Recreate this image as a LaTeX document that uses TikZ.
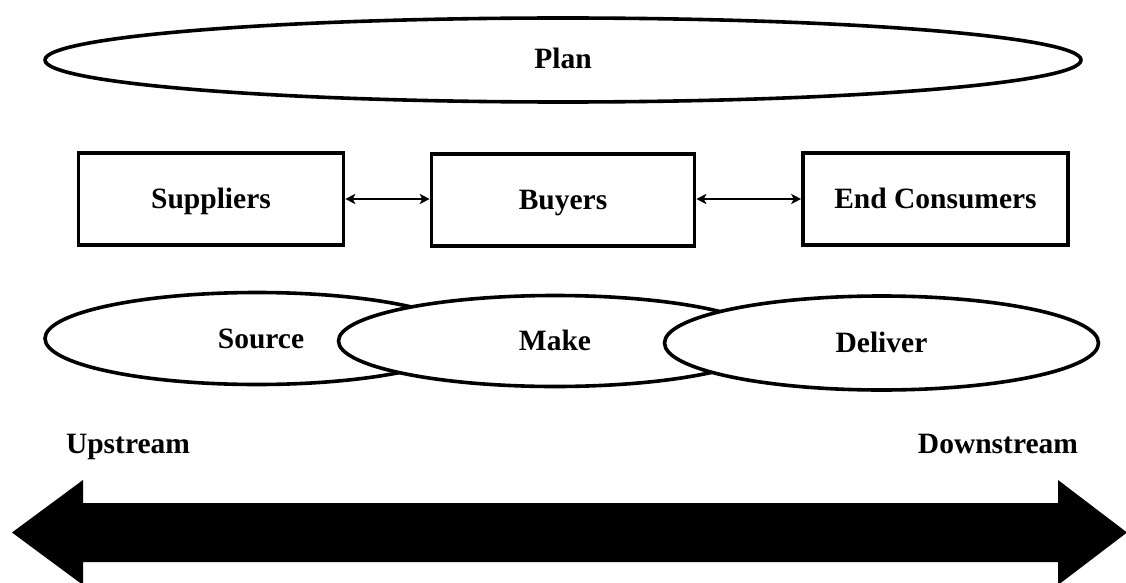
\documentclass[tikz,border=0pt]{standalone}
\usepackage{fontspec}
\setmainfont{Liberation Serif}
\usetikzlibrary{shapes.geometric,arrows.meta}
\begin{document}
\begin{tikzpicture}[x=1pt,y=-1pt,
  every node/.style={font=\fontsize{29.5}{34}\selectfont\bfseries,text height=20pt,text depth=2pt},
  boxnode/.style={draw,line width=3.6pt,fill=white,inner sep=0pt,minimum height=92pt},
  ellnode/.style={draw,ellipse,line width=3.6pt,fill=white,inner sep=0pt},
  link/.style={line width=2.4pt,{Stealth[length=10pt,width=10pt,inset=2.5pt]}-{Stealth[length=10pt,width=10pt,inset=2.5pt]}},
  bigarrow/.style={fill=black}]
\useasboundingbox (0,0) rectangle (1126,583);
% Plan
\node[ellnode,minimum width=1036pt,minimum height=84pt] (plan) at (563,60) {Plan};
% boxes
\node[boxnode,minimum width=265pt] (sup) at (211,199) {Suppliers};
\node[boxnode,minimum width=263pt] (buy) at (563,200) {Buyers};
\node[boxnode,minimum width=265pt] (end) at (935.5,199) {End Consumers};
\draw[link] (sup.east |- 0,199) -- (buy.west |- 0,199);
\draw[link] (buy.east |- 0,199) -- (end.west |- 0,199);
% process ellipses
\node[ellnode,minimum width=424pt,minimum height=92pt] (src) at (257,338.5) {};
\node at (261,339) (srct) {Source};
\node[ellnode,minimum width=433pt,minimum height=91pt] (make) at (555,341) {Make};
\node[ellnode,minimum width=434pt,minimum height=94pt] (del) at (881.5,343) {Deliver};
% stream labels
\node (up) at (128,444) {Upstream};
\node (down) at (998,444) {Downstream};
% big double arrow
\fill[bigarrow] (12,532.5) -- (83,480) -- (83,503) -- (1058,503) -- (1058,480)
  -- (1127,532.5) -- (1058,585) -- (1058,562) -- (83,562) -- (83,585) -- cycle;
\end{tikzpicture}
\end{document}
